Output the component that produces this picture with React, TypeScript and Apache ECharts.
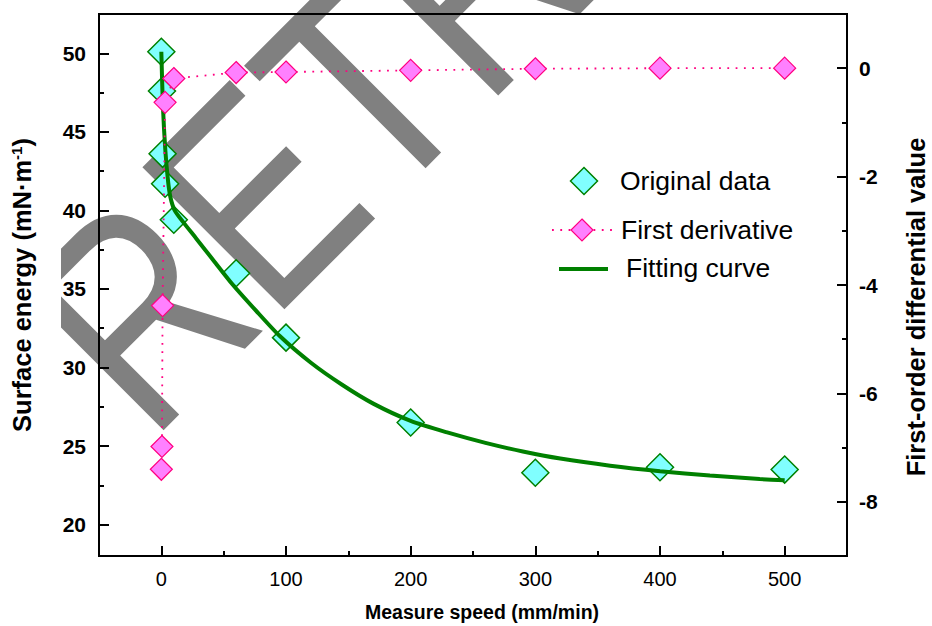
import React, { useEffect, useRef } from "react";
import * as echarts from "echarts";

// Original data (surface energy vs measure speed)
const speedX = [0, 0.5, 1, 3, 10, 60, 100, 200, 300, 400, 500];
const surfaceEnergy = [50.1, 47.6, 43.6, 41.7, 39.4, 36.0, 31.9, 26.5, 23.3, 23.65, 23.5];
// First derivative (right axis)
const derivX = [0, 0.5, 1, 3, 10, 60, 100, 200, 300, 400, 500];
const firstDerivative = [-7.4, -6.98, -4.38, -0.63, -0.19, -0.08, -0.07, -0.04, -0.01, 0.0, 0.0];
// Fitting curve
const fitX = [0, 1.3, 3.2, 5.3, 7.2, 10.7, 17.4, 28.1, 42, 57, 75, 95, 120, 145, 170, 200, 230, 260, 290, 320, 360, 400, 440, 480, 500];
const fitY = [50.1, 46.6, 43.84, 41.93, 40.87, 40.0, 39.27, 38.2, 36.8, 35.3, 33.7, 32.0, 30.3, 28.9, 27.7, 26.6, 25.85, 25.2, 24.65, 24.2, 23.75, 23.4, 23.12, 22.9, 22.82];

// Tick values
const X_MAJOR = [0, 100, 200, 300, 400, 500];
const X_MINOR = [50, 150, 250, 350, 450];
const Y_MAJOR = [20, 25, 30, 35, 40, 45, 50];
const Y_MINOR = [22.5, 27.5, 32.5, 37.5, 42.5, 47.5];
const R_MAJOR = [0, -2, -4, -6, -8];
const R_MINOR = [-1, -3, -5, -7];

const FONT = '"Liberation Sans", Arial, sans-serif';

export default function App() {
  const ref = useRef<HTMLDivElement>(null);
  useEffect(() => {
    if (!ref.current) return;
    const chart = echarts.init(ref.current, null, { renderer: "svg" });
    const black = "#000";
    const minorAxisBase = (position: string) => ({
      type: "value",
      position,
      axisLine: { show: false, onZero: false },
      axisLabel: { show: false },
      splitLine: { show: false },
    });
    const option: any = {
      animation: false,
      backgroundColor: "#fff",
      grid: {
        left: 99,
        right: 85,
        top: 14,
        bottom: 70,
        show: true,
        borderColor: black,
        borderWidth: 2,
        backgroundColor: "transparent",
        outerBoundsMode: "none",
      },
      xAxis: [
        {
          type: "value",
          position: "bottom",
          min: -50,
          max: 550,
          axisLine: { show: true, onZero: false, lineStyle: { color: black, width: 2 } },
          axisTick: { show: true, inside: true, length: 10, customValues: X_MAJOR, lineStyle: { color: black, width: 2 } },
          axisLabel: { customValues: X_MAJOR, color: black, fontSize: 20, fontFamily: FONT, margin: 13 },
          splitLine: { show: false },
          name: "Measure speed (mm/min)",
          nameLocation: "middle",
          nameGap: 46,
          nameTextStyle: { color: black, fontSize: 19.5, fontWeight: "bold", fontFamily: FONT, padding: [0, 0, 0, 18] },
        },
        {
          ...minorAxisBase("bottom"),
          min: -50,
          max: 550,
          axisTick: { show: true, inside: true, length: 5, customValues: X_MINOR, lineStyle: { color: black, width: 2 } },
        },
      ],
      yAxis: [
        {
          type: "value",
          position: "left",
          min: 18,
          max: 52.5,
          axisLine: { show: true, onZero: false, lineStyle: { color: black, width: 2 } },
          axisTick: { show: true, inside: true, length: 10, customValues: Y_MAJOR, lineStyle: { color: black, width: 2 } },
          axisLabel: { customValues: Y_MAJOR, color: black, fontSize: 21, fontWeight: "bold", fontFamily: FONT, margin: 13 },
          splitLine: { show: false },
          name: "{t|Surface energy (mN·m}{s|-1}{t|)}",
          nameLocation: "middle",
          nameRotate: 90,
          nameGap: 64,
          nameTextStyle: {
            rich: {
              t: { fontSize: 25.5, fontWeight: "bold", fontFamily: FONT, color: black },
              s: { fontSize: 15, fontWeight: "bold", fontFamily: FONT, color: black, verticalAlign: "top" },
            },
          },
        },
        {
          type: "value",
          position: "right",
          min: -9,
          max: 1,
          axisLine: { show: true, onZero: false, lineStyle: { color: black, width: 2 } },
          axisTick: { show: true, inside: true, length: 10, customValues: R_MAJOR, lineStyle: { color: black, width: 2 } },
          axisLabel: { customValues: R_MAJOR, color: black, fontSize: 21, fontWeight: "bold", fontFamily: FONT, margin: 12 },
          splitLine: { show: false },
          name: "First-order differential value",
          nameLocation: "middle",
          nameRotate: 90,
          nameGap: 56,
          nameTextStyle: { color: black, fontSize: 25.5, fontWeight: "bold", fontFamily: FONT, padding: [0, 44, 0, 0] },
        },
        {
          ...minorAxisBase("left"),
          min: 18,
          max: 52.5,
          axisTick: { show: true, inside: true, length: 5, customValues: Y_MINOR, lineStyle: { color: black, width: 2 } },
        },
        {
          ...minorAxisBase("right"),
          min: -9,
          max: 1,
          axisTick: { show: true, inside: true, length: 5, customValues: R_MINOR, lineStyle: { color: black, width: 2 } },
        },
      ],
      series: [
        {
          name: "Original data",
          type: "scatter",
          xAxisIndex: 0,
          yAxisIndex: 0,
          symbol: "diamond",
          symbolSize: 27,
          z: 2,
          itemStyle: { color: "#80FFFF", borderColor: "#008000", borderWidth: 1.5, opacity: 1 },
          data: speedX.map((x, i) => [x, surfaceEnergy[i]]),
        },
        {
          name: "Fitting curve",
          type: "line",
          xAxisIndex: 0,
          yAxisIndex: 0,
          showSymbol: false,
          symbol: "none",
          smooth: 0.25,
          z: 3,
          lineStyle: { color: "#008000", width: 4 },
          data: fitX.map((x, i) => [x, fitY[i]]),
        },
        {
          name: "First derivative",
          type: "line",
          xAxisIndex: 0,
          yAxisIndex: 1,
          symbol: "diamond",
          symbolSize: 22,
          showSymbol: true,
          z: 4,
          itemStyle: { color: "#FF80FF", borderColor: "#FF0080", borderWidth: 1.2, opacity: 1 },
          lineStyle: { color: "#FF0080", width: 1.8, type: [1.8, 6.5] },
          data: derivX.map((x, i) => [x, firstDerivative[i]]),
        },
      ],
      graphic: [
        {
          type: "text",
          x: 78,
          y: 372,
          rotation: Math.PI / 4,
          scaleX: 0.81,
          z: -10,
          silent: true,
          style: {
            text: "RETR",
            fill: "#808080",
            fontSize: 292,
            fontFamily: FONT,
            align: "left",
            verticalAlign: "middle",
          },
        },
        {
          type: "rect",
          z: -5,
          silent: true,
          shape: { x: 0, y: 0, width: 61, height: 626 },
          style: { fill: "#fff" },
        },
        // legend
        {
          type: "polygon",
          z: 100,
          shape: { points: [[584, 167.5], [597.5, 181], [584, 194.5], [570.5, 181]] },
          style: { fill: "#80FFFF", stroke: "#008000", lineWidth: 1.5 },
        },
        {
          type: "text",
          z: 100,
          x: 620,
          y: 181,
          style: { text: "Original data", fill: black, fontSize: 26.5, fontFamily: FONT, verticalAlign: "middle" },
        },
        {
          type: "line",
          z: 99,
          shape: { x1: 552, y1: 230, x2: 613, y2: 230 },
          style: { stroke: "#FF0080", lineWidth: 1.8, lineDash: [1.8, 6.5] },
        },
        {
          type: "polygon",
          z: 100,
          shape: { points: [[582, 219], [593, 230], [582, 241], [571, 230]] },
          style: { fill: "#FF80FF", stroke: "#FF0080", lineWidth: 1.2 },
        },
        {
          type: "text",
          z: 100,
          x: 621,
          y: 230,
          style: { text: "First derivative", fill: black, fontSize: 26.5, fontFamily: FONT, verticalAlign: "middle" },
        },
        {
          type: "line",
          z: 100,
          shape: { x1: 559, y1: 269, x2: 608, y2: 269 },
          style: { stroke: "#008000", lineWidth: 4 },
        },
        {
          type: "text",
          z: 100,
          x: 626,
          y: 268,
          style: { text: "Fitting curve", fill: black, fontSize: 26.5, fontFamily: FONT, verticalAlign: "middle" },
        },
      ],
    };
    chart.setOption(option);
    return () => chart.dispose();
  }, []);
  return (
    <div
      ref={ref}
      style={{ position: "fixed", left: 0, top: 0, width: 932, height: 626, background: "#fff" }}
    />
  );
}
